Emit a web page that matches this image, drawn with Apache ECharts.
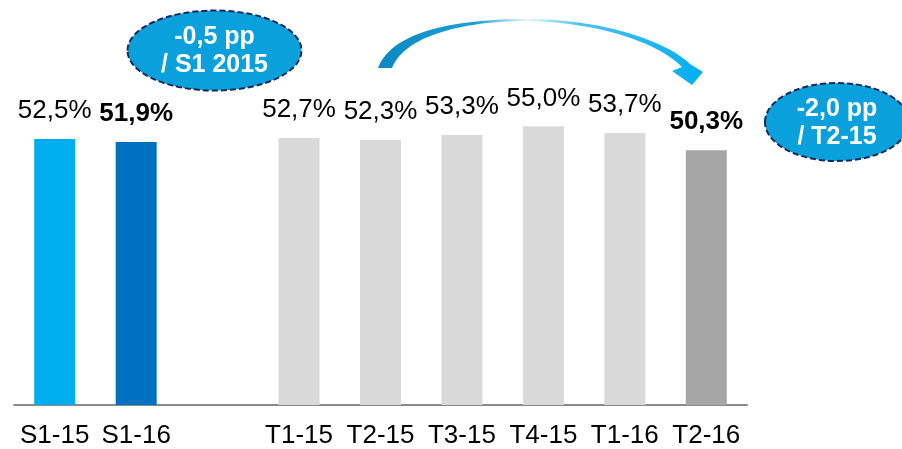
<!DOCTYPE html>
<html>
<head>
<meta charset="utf-8">
<script src="https://cdn.jsdelivr.net/npm/echarts@6/dist/echarts.min.js"></script>
<style>
  html, body { margin: 0; padding: 0; background: #fff; }
  #chart { width: 902px; height: 449px; }
</style>
</head>
<body>
<div id="chart"></div>
<script>
const categories = ['S1-15', 'S1-16', '', 'T1-15', 'T2-15', 'T3-15', 'T4-15', 'T1-16', 'T2-16'];
const values = [52.5, 51.9, null, 52.7, 52.3, 53.3, 55.0, 53.7, 50.3];
const boldCategories = ['S1-16', 'T2-16'];
const bubble1Lines = ['-0,5 pp', '/ S1 2015'];
const bubble2Lines = ['-2,0 pp', '/ T2-15'];

const colorMap = {
  'S1-15': '#00AEEF',
  'S1-16': '#0070C0',
  'T2-16': '#A6A6A6'
};
const FONT = '"Liberation Sans", Arial, sans-serif';

function fmt(v) { return v.toFixed(1).replace('.', ',') + '%'; }

const seriesData = categories.map((c, i) => {
  if (values[i] == null) return { value: null };
  return {
    value: values[i],
    itemStyle: { color: colorMap[c] || '#D9D9D9' },
    label: { fontWeight: boldCategories.indexOf(c) >= 0 ? 'bold' : 'normal' }
  };
});

function cubic(p0, p1, p2, p3, n) {
  const pts = [];
  for (let k = 0; k <= n; k++) {
    const t = k / n, u = 1 - t;
    const a = u*u*u, b = 3*u*u*t, c = 3*u*t*t, d = t*t*t;
    pts.push([a*p0[0] + b*p1[0] + c*p2[0] + d*p3[0], a*p0[1] + b*p1[1] + c*p2[1] + d*p3[1]]);
  }
  return pts;
}
const arrowPts = [].concat(
  cubic([378, 68], [392, 30], [460, 19], [527, 19], 30),
  cubic([527, 19], [600, 19], [665, 40], [690, 64], 30),
  [[703, 72], [692, 85], [672, 71]],
  cubic([682, 67], [660, 44], [600, 22], [527, 21], 30),
  cubic([527, 21], [465, 21], [405, 35], [392, 68], 30)
);

function bubble(cx, cy, rx, ry, lines) {
  return {
    type: 'group',
    children: [
      {
        type: 'ellipse',
        shape: { cx: cx, cy: cy, rx: rx, ry: ry },
        style: { fill: '#0AA0DC', stroke: '#1B2A55', lineWidth: 2, lineDash: [6, 3] }
      },
      {
        type: 'text',
        style: {
          text: lines.join('\n'),
          x: cx, y: cy + 1,
          align: 'center', verticalAlign: 'middle',
          fill: '#ffffff',
          font: 'bold 25px ' + FONT,
          lineHeight: 28
        }
      }
    ]
  };
}

const chart = echarts.init(document.getElementById('chart'));
chart.setOption({
  animation: false,
  backgroundColor: '#ffffff',
  grid: { left: 14, right: 155, top: 101, bottom: 43 },
  xAxis: {
    type: 'category',
    data: categories,
    axisLine: { lineStyle: { color: '#8A8A8A', width: 2 } },
    axisTick: { length: 8, lineStyle: { color: '#8A8A8A', width: 2 } },
    axisLabel: { interval: 0, fontSize: 26, color: '#000', fontFamily: FONT, margin: 18 }
  },
  yAxis: { type: 'value', show: false, min: 0, max: 60 },
  series: [{
    type: 'bar',
    data: seriesData,
    barWidth: 41,
    label: {
      show: true,
      position: 'top',
      distance: 15,
      fontSize: 26,
      color: '#000',
      fontFamily: FONT,
      formatter: p => fmt(p.value)
    }
  }],
  graphic: [
    {
      type: 'polygon',
      shape: { points: arrowPts },
      style: {
        fill: {
          type: 'linear', x: 0, y: 0, x2: 1, y2: 0,
          colorStops: [
            { offset: 0, color: '#0A88C4' },
            { offset: 0.3, color: '#1FA0D8' },
            { offset: 0.46, color: '#E6F6FD' },
            { offset: 0.62, color: '#4EC3F2' },
            { offset: 1, color: '#00AEEF' }
          ]
        }
      }
    },
    bubble(214.5, 50.5, 87, 40, bubble1Lines),
    bubble(837, 122, 72, 39, bubble2Lines)
  ]
});
</script>
</body>
</html>
